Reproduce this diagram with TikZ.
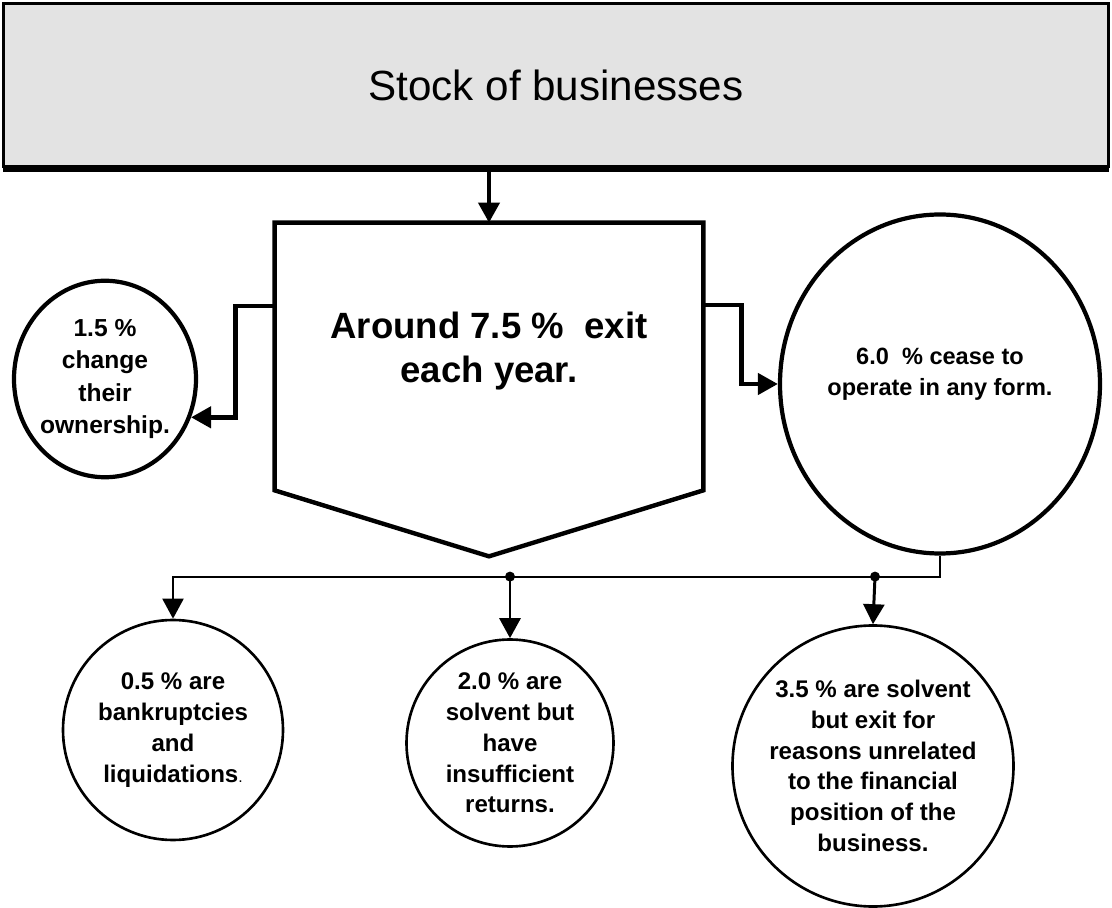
\documentclass[tikz,border=0pt]{standalone}
\usepackage{fontspec}
\setmainfont{Liberation Sans}
\usepackage{tikz}
\usetikzlibrary{arrows.meta}
\usetikzlibrary{calc}
\usetikzlibrary{shapes.geometric}
\usetikzlibrary{shadows}

\begin{document}
\begin{tikzpicture}[->,>={Triangle[length=0.4cm,width=0.42cm]},line join=miter,
  stock node/.style={rectangle,draw,line width=1.7pt,fill=black!11,minimum width=22.1cm,minimum height=3.26cm,
    font=\fontsize{24}{28}\selectfont,drop shadow={shadow xshift=0pt,shadow yshift=-3pt,opacity=1,fill=black}},
  exit node/.style={rectangle,minimum width=8.56cm,minimum height=5.34cm,align=center,text depth=10pt,
    font=\bfseries\fontsize{20.8}{25}\selectfont},
  round node/.style={ellipse,draw,line width=1.5pt,align=center,inner sep=-5pt,
    font=\bfseries\fontsize{13.7}{17.5}\selectfont}]

  \useasboundingbox (0,0) rectangle (22.24,-18.16);

  \node[stock node] (1) at (11.12,-1.70) {Stock of businesses};
  \node[exit node] (2) at (9.78,-7.13) {Around 7.5 \%~~exit\\each year.};
  \draw[-,line width=2.5pt] (2.north west) -- (2.north east) -- (2.south east)
    -- ($(2.south)+(0,-1.32)$) -- (2.south west) -- cycle;

  \node[round node,line width=2.4pt,minimum width=3.64cm,minimum height=3.93cm,
    font=\bfseries\fontsize{14}{18.4}\selectfont] (3) at (2.10,-7.58) {1.5 \%\\change\\their\\ownership.};
  \node[round node,line width=2.4pt,minimum width=6.40cm,minimum height=6.78cm,text depth=14pt,
    font=\bfseries\fontsize{13.4}{18}\selectfont] (4) at (18.80,-7.68) {6.0~~\% cease to\\operate in any form.};
  \node[round node,minimum width=4.40cm,minimum height=4.40cm] (5) at (3.46,-14.60)
    {0.5 \% are\\bankruptcies\\and\\liquidations\textmd{\small.}};
  \node[round node,minimum width=4.14cm,minimum height=4.14cm] (6) at (10.20,-14.86)
    {2.0 \% are\\solvent but\\have\\insufficient\\returns.};
  \node[round node,minimum width=5.62cm,minimum height=5.62cm] (7) at (17.46,-15.32)
    {3.5 \% are solvent\\but exit for\\reasons unrelated\\to the financial\\position of the\\business.};

  % flows out of the stock
  \draw[line width=2.3pt] (1.south -| 2.north) -- (2.north);
  \draw[line width=2.5pt] ([yshift=1.01cm]2.west) -- ++(-0.78,0) |- (3.-24);
  \draw[line width=2.5pt] ([yshift=1.03cm]2.east) -- ++(0.76,0) |- (4.west);

  % split of the closures
  \coordinate (bus) at ($(4.south)+(0,-0.42)$);
  \coordinate (j6) at (bus -| 6.north);
  \coordinate (j7) at ($(bus -| 7.north)+(0.04,0)$);
  \draw[line width=1.2pt] (4.south) -- (bus) -| (5.north);
  \fill (j6) circle (0.1);
  \fill (j7) circle (0.1);
  \draw[line width=1.7pt] (j6) -- (6.north);
  \draw[line width=1.7pt] (j7) -- (7.north);
\end{tikzpicture}
\end{document}
